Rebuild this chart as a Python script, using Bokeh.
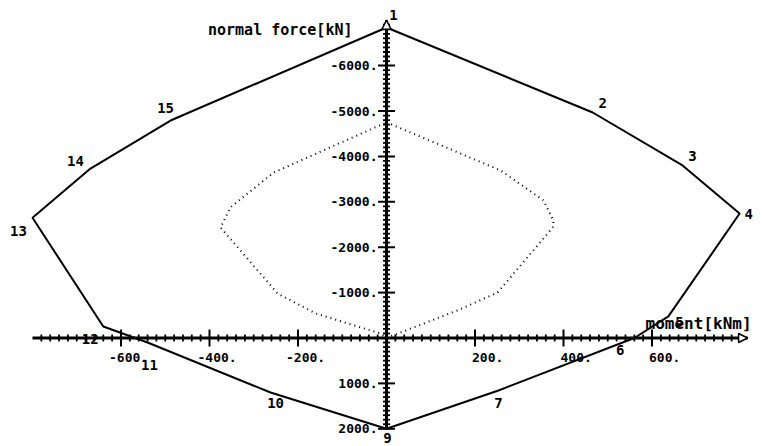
import numpy as np
from bokeh.plotting import figure
from bokeh.models import Range1d, Arrow, NormalHead, ColumnDataSource
from bokeh.core.properties import value
from bokeh.embed import file_html
from bokeh.resources import INLINE

# M-N interaction diagram: bending moment [kNm] against normal force [kN]
# (compression negative, drawn upwards)
point_ids = ["1", "2", "3", "4", "5", "6", "7", "9", "10", "11", "12", "13", "14", "15"]
moment = [0, 466, 669, 798, 637, 560, 253, 0, -262, -540, -640, -800, -669, -488]
normal = [-6840, -4967, -3800, -2742, -475, 0, 1156, 2000, 1200, 100, -253, -2648, -3733, -4790]

# inner boundary (dotted)
inner_moment = [0, 258, 355, 377, 377, 251, 160, 0, -14, -160, -246, -375, -353, -255, 0]
inner_normal = [-4750, -3690, -3030, -2590, -2450, -1000, -606, 0, -100, -540, -980, -2434, -2875, -3645, -4750]

x_ticks = [-600, -400, -200, 200, 400, 600]
x_tick_labels = ["-600.", "-400.", "-200.", "200.", "400.", "600."]
y_ticks = [-6000, -5000, -4000, -3000, -2000, -1000, 1000, 2000]
y_tick_labels = ["-6000.", "-5000.", "-4000.", "-3000.", "-2000.", "-1000.", "1000.", "2000."]

x_title = "moment[kNm]"
y_title = "normal  force[kN]"

# axis extents in data units
X_AXIS = (-800, 816)
Y_AXIS = (2000, -7000)

# pixel offsets for the vertex number labels
label_dx = [7, 10, 10, 9, 11, -14, 0, 1, 5, 2, -13, -14, -15, -5]
label_dy = [-12, -9, -9, 0, 6, 12, 13, 9, 11, 22, 12, 13, -8, -13]

FONT = value("DejaVu Sans Mono")

p = figure(width=762, height=446,
           x_range=Range1d(-872.3, 849.7), y_range=Range1d(2390, -7434),
           output_backend="svg", toolbar_location=None, min_border=0,
           x_axis_location=None, y_axis_location=None)
p.outline_line_color = None
p.grid.visible = False
p.background_fill_color = "white"
p.border_fill_color = "white"

# axes lines
p.segment(x0=[X_AXIS[0]], y0=[0], x1=[X_AXIS[1]], y1=[0], line_color="black", line_width=3)
p.segment(x0=[0], y0=[Y_AXIS[0]], x1=[0], y1=[Y_AXIS[1]], line_color="black", line_width=3)

# arrow heads
p.add_layout(Arrow(end=NormalHead(size=9, fill_color="white", line_color="black", line_width=1.5),
                   x_start=X_AXIS[1] - 20, y_start=0, x_end=X_AXIS[1], y_end=0, line_width=0))
p.add_layout(Arrow(end=NormalHead(size=9, fill_color="white", line_color="black", line_width=1.5),
                   x_start=0, y_start=Y_AXIS[1] + 200, x_end=0, y_end=Y_AXIS[1], line_width=0))

# minor and major ticks
x_minor = [v for v in np.arange(-780, 800, 20) if v % 200 != 0]
y_minor = [v for v in np.arange(-6900, 2001, 100) if v % 1000 != 0]
p.scatter(x=x_minor, y=[0] * len(x_minor), marker="dash", angle=np.pi / 2, size=7,
          line_color="black", line_width=1.8)
p.scatter(x=[0] * len(y_minor), y=y_minor, marker="dash", size=7,
          line_color="black", line_width=1.8)
p.scatter(x=x_ticks, y=[0] * len(x_ticks), marker="dash", angle=np.pi / 2, size=17,
          line_color="black", line_width=2)
p.scatter(x=[0] * len(y_ticks), y=y_ticks, marker="dash", size=17,
          line_color="black", line_width=2)

# tick labels
p.text(x=x_ticks, y=[0] * len(x_ticks), text=x_tick_labels,
       x_offset=[-12 if v < 0 else -3 for v in x_ticks], y_offset=20,
       text_font=FONT, text_font_style="bold", text_font_size="13px",
       text_align="left", text_baseline="middle", text_color="black")
p.text(x=[0] * len(y_ticks), y=y_ticks, text=y_tick_labels,
       x_offset=-9, y_offset=0,
       text_font=FONT, text_font_style="bold", text_font_size="13px",
       text_align="right", text_baseline="middle", text_color="black")

# axis titles
p.text(x=[0], y=[Y_AXIS[1]], text=[y_title], x_offset=-25, y_offset=10,
       text_font=FONT, text_font_style="bold", text_font_size="15px",
       text_align="right", text_baseline="middle", text_color="black")
p.text(x=[X_AXIS[1]], y=[0], text=[x_title], x_offset=-102, y_offset=-14,
       text_font=FONT, text_font_style="bold", text_font_size="16px",
       text_align="left", text_baseline="middle", text_color="black")

# inner dotted boundary
p.line(inner_moment, inner_normal, line_color="black", line_width=2, line_dash="1 4")

# ultimate interaction polygon
src = ColumnDataSource(dict(m=moment + [moment[0]], n=normal + [normal[0]]))
p.line("m", "n", source=src, line_color="black", line_width=2)

# vertex numbers
lbl = ColumnDataSource(dict(m=moment, n=normal, t=point_ids, dx=label_dx, dy=label_dy))
p.text(x="m", y="n", text="t", x_offset="dx", y_offset="dy", source=lbl,
       text_font=FONT, text_font_style="bold", text_font_size="14px",
       text_align="center", text_baseline="middle", text_color="black")

open("out.html", "w").write(file_html(p, INLINE))
